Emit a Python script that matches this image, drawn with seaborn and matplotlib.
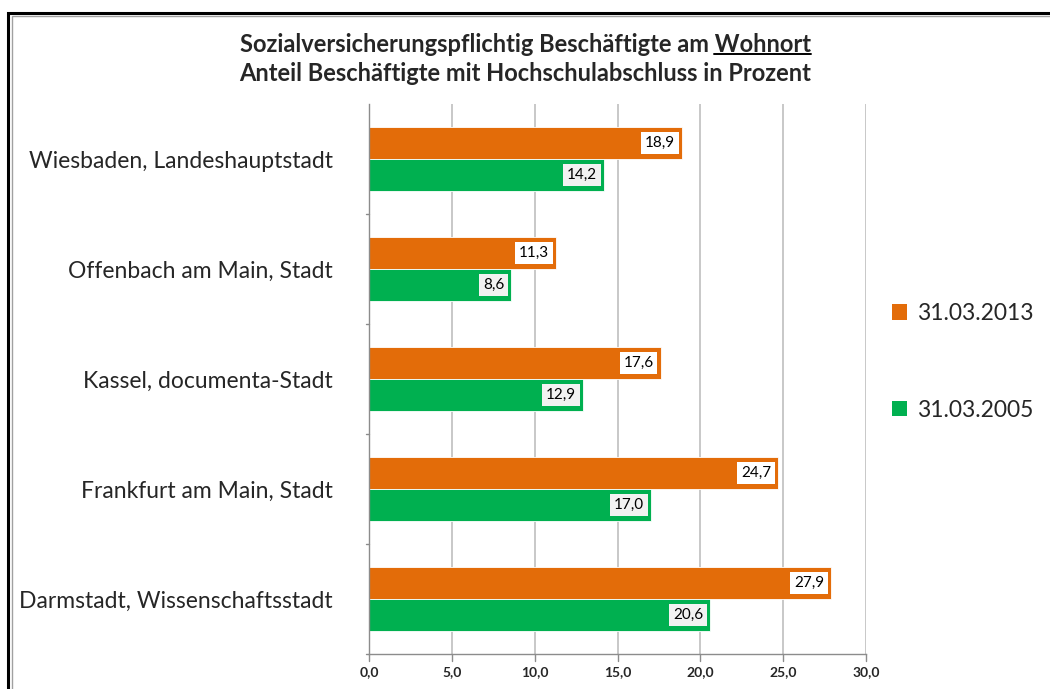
import pandas as pd
import matplotlib.pyplot as plt
import seaborn as sns
from matplotlib.patches import Patch, Rectangle
from matplotlib.lines import Line2D

# Chart data
cities = ['Wiesbaden, Landeshauptstadt', 'Offenbach am Main, Stadt', 'Kassel, documenta-Stadt',
          'Frankfurt am Main, Stadt', 'Darmstadt, Wissenschaftsstadt']
share_2013 = [18.9, 11.3, 17.6, 24.7, 27.9]
share_2005 = [14.2, 8.6, 12.9, 17.0, 20.6]
dates = ['31.03.2013', '31.03.2005']
colors = ['#E36C09', '#00B050']
x_ticks = [0, 5, 10, 15, 20, 25, 30]

# Long form table for seaborn
data = pd.DataFrame({
    'Stadt': cities * 2,
    'Anteil': share_2013 + share_2005,
    'Stichtag': [dates[0]] * len(cities) + [dates[1]] * len(cities),
})

sns.set_style('white')
plt.rcParams['font.family'] = ['Lato', 'DejaVu Sans']

fig = plt.figure(figsize=(10.5, 6.89), dpi=100)
ax = fig.add_axes([0.3514, 0.0508, 0.4734, 0.7982])

sns.barplot(data=data, y='Stadt', x='Anteil', hue='Stichtag', order=cities, hue_order=dates,
            palette=colors, orient='h', width=0.58, saturation=1, legend=False, ax=ax,
            linewidth=0.6, edgecolor='white')

# value labels inside the bar ends
label_bg = ['white', '#F2F2F2']
for cont, bg in zip(ax.containers, label_bg):
    labels = [f'{v:.1f}'.replace('.', ',') for v in cont.datavalues]
    anns = ax.bar_label(cont, labels=labels, padding=-5, fontsize=11, color='black',
                        bbox=dict(boxstyle='square,pad=0.25', facecolor=bg, edgecolor='none'))
    for a in anns:
        a.set_ha('right')

ax.set_xlim(0, 30)
ax.set_ylim(4.5, -0.5)
ax.set_xticks(x_ticks)
ax.set_xticklabels([f'{t:.1f}'.replace('.', ',') for t in x_ticks], fontsize=10, fontweight='bold')
ax.set_yticks(range(len(cities)))
ax.set_yticklabels(cities, fontsize=16.5)
ax.tick_params(axis='y', length=0, pad=26)
ax.tick_params(axis='x', length=0, pad=9)
ax.set_xlabel('')
ax.set_ylabel('')

# gridlines and axes
ax.grid(axis='x', color='#BFBFBF', lw=1.2)
ax.set_axisbelow(True)
for side in ['top', 'right']:
    ax.spines[side].set_visible(False)
for side in ['left', 'bottom']:
    ax.spines[side].set_color('#8C8C8C')
    ax.spines[side].set_linewidth(1)
# category separator ticks on the left axis
for b in [0.5, 1.5, 2.5, 3.5, 4.5]:
    ax.plot([-0.18, 0], [b, b], color='#8C8C8C', lw=1, clip_on=False)
for t in x_ticks:
    ax.plot([t, t], [4.5, 4.56], color='#8C8C8C', lw=1, clip_on=False)

# title
t1 = fig.text(0.5, 0.935, 'Sozialversicherungspflichtig Beschäftigte am Wohnort',
              ha='center', va='center', fontsize=17, fontweight='bold')
fig.text(0.5, 0.893, 'Anteil Beschäftigte mit Hochschulabschluss in Prozent',
         ha='center', va='center', fontsize=17, fontweight='bold')

# legend
handles = [Patch(facecolor=c, edgecolor='none') for c in colors]
fig.legend(handles, dates, loc='center left', bbox_to_anchor=(0.83, 0.475), frameon=False,
           fontsize=16.5, handlelength=0.65, handleheight=0.65, handletextpad=0.45, labelspacing=3.3)

# chart frame
fig.patches.append(Rectangle((0.008, -0.1), 1.2, 1.081, transform=fig.transFigure,
                             fill=False, edgecolor='black', lw=2.2))
fig.patches.append(Rectangle((0.011, -0.1), 1.2, 1.077, transform=fig.transFigure,
                             fill=False, edgecolor='#A0A0A0', lw=1))

# underline "Wohnort" in the first title line
fig.canvas.draw()
r = fig.canvas.get_renderer()
bb = t1.get_window_extent(r)
probe = fig.text(0, 0, 'Wohnort', fontsize=17, fontweight='bold')
w = probe.get_window_extent(r).width
probe.remove()
inv = fig.transFigure.inverted()
(x0, y0), (x1, _) = inv.transform([(bb.x1 - w, bb.y0 + 2), (bb.x1, bb.y0)])
fig.lines.append(Line2D([x0, x1], [y0, y0], color='black', lw=1.4, transform=fig.transFigure))

plt.savefig('out.png', dpi=100)
